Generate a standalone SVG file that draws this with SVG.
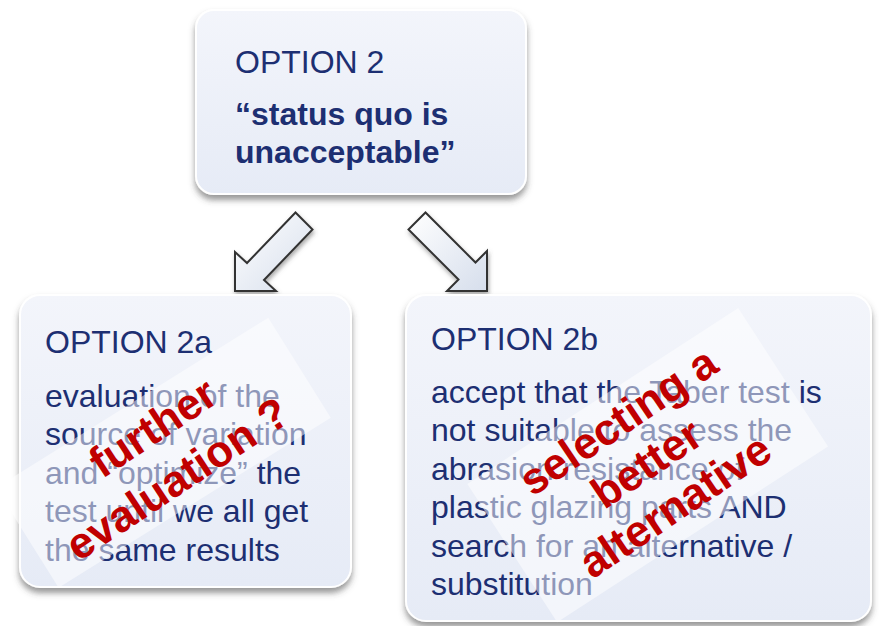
<svg xmlns="http://www.w3.org/2000/svg" width="879" height="626" viewBox="0 0 879 626">
  <defs>
    <linearGradient id="boxGrad" x1="0" y1="0" x2="0" y2="1">
      <stop offset="0" stop-color="#f3f5fb"/>
      <stop offset="1" stop-color="#e6ebf6"/>
    </linearGradient>
    <linearGradient id="arrowGrad" x1="0" y1="0" x2="1" y2="1">
      <stop offset="0" stop-color="#ffffff"/>
      <stop offset="1" stop-color="#d6deec"/>
    </linearGradient>
    <filter id="shadow" x="-10%" y="-10%" width="120%" height="125%">
      <feDropShadow dx="0" dy="5" stdDeviation="3" flood-color="#444" flood-opacity="0.55"/>
    </filter>
    <filter id="ashadow" x="-20%" y="-20%" width="140%" height="140%">
      <feDropShadow dx="1" dy="3" stdDeviation="2" flood-color="#555" flood-opacity="0.5"/>
    </filter>
  </defs>
  <style>
    .box { fill: url(#boxGrad); stroke: #ffffff; stroke-width: 2; filter: url(#shadow); }
    .title { font-family: "Liberation Sans", Arial, sans-serif; font-size: 32px; fill: #1d2f72; }
    .body { font-family: "Liberation Sans", Arial, sans-serif; font-size: 32px; fill: #1d2f72; }
    .bold { font-weight: bold; }
    .overlay { fill: #ffffff; fill-opacity: 0.5; }
    .stamp { font-family: "Liberation Sans", Arial, sans-serif; font-weight: bold; fill: #c00000; text-anchor: middle; font-size: 44px; }
    .arrow { fill: url(#arrowGrad); stroke: #333333; stroke-width: 2; stroke-linejoin: miter; filter: url(#ashadow); }
  </style>
  <rect width="879" height="626" fill="#ffffff"/>

  <g id="option2">
    <rect class="box" x="196" y="10" width="330" height="184" rx="18"/>
    <text class="title" x="235" y="73">OPTION 2</text>
    <text class="body bold" x="235" y="125">“status quo is</text>
    <text class="body bold" x="235" y="163">unacceptable”</text>
  </g>

  <g id="connectors">
    <polygon class="arrow" points="235,291 235,252 247,263 295.5,212.5 312.5,229.5 264,280 276,291"/>
    <polygon class="arrow" points="487,291 487,251 475.5,262.5 425.5,212.5 408.5,229.5 458.5,279.5 447,291"/>
  </g>

  <g id="option2a">
    <rect class="box" x="20" y="295" width="331" height="292" rx="20"/>
    <text class="title" x="45" y="353">OPTION 2a</text>
    <text class="body" x="45" y="407">evaluation of the</text>
    <text class="body" x="45" y="445">source of variation</text>
    <text class="body" x="45" y="484">and “optimize” the</text>
    <text class="body" x="45" y="522">test until we all get</text>
    <text class="body" x="45" y="561">the same results</text>
    <rect class="overlay" x="-160" y="-59" width="321" height="118" transform="translate(163,453) rotate(-32)"/>
    <g transform="translate(170,468) rotate(-33.5)">
      <text class="stamp" x="8" y="-28">further</text>
      <text class="stamp" x="0" y="28">evaluation ?</text>
    </g>
  </g>

  <g id="option2b">
    <rect class="box" x="406" y="295" width="465" height="326" rx="20"/>
    <text class="title" x="431" y="350">OPTION 2b</text>
    <text class="body" x="431" y="403">accept that the Taber test is</text>
    <text class="body" x="431" y="441">not suitable to assess the</text>
    <text class="body" x="431" y="480">abrasion resistance of</text>
    <text class="body" x="431" y="518">plastic glazing parts AND</text>
    <text class="body" x="431" y="557">search for an alternative /</text>
    <text class="body" x="431" y="595">substitution</text>
    <rect class="overlay" x="-161" y="-82" width="323" height="165" transform="translate(647,465) rotate(-33)"/>
    <g transform="translate(655,476) rotate(-34)">
      <text class="stamp" x="0" y="-51">selecting a</text>
      <text class="stamp" x="0" y="0">better</text>
      <text class="stamp" x="0" y="51">alternative</text>
    </g>
  </g>
</svg>
